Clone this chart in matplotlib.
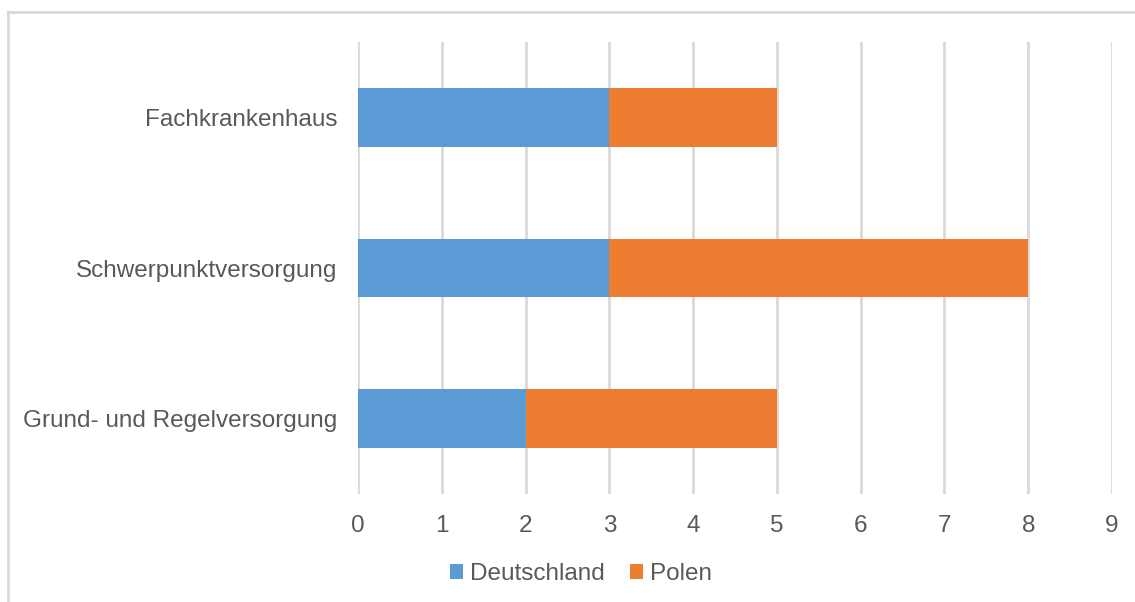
import matplotlib
matplotlib.use('Agg')
import matplotlib.pyplot as plt
from matplotlib.lines import Line2D
import numpy as np

# Daten
kategorien = ['Grund- und Regelversorgung', 'Schwerpunktversorgung', 'Fachkrankenhaus']
deutschland = [2, 3, 3]
polen = [3, 5, 2]
serien = ['Deutschland', 'Polen']
x_ticks = list(range(0, 10))

blau = '#5B9BD5'
orange = '#ED7D31'
grau_text = '#595959'
grau_linie = '#D9D9D9'

plt.rcParams['font.family'] = ['Liberation Sans', 'DejaVu Sans']

fig = plt.figure(figsize=(11.35, 6.02), dpi=100)
ax = fig.add_axes([358/1135, 1 - 494/602, (1112 - 358)/1135, (494 - 42)/602])

y = np.arange(len(kategorien))
ax.barh(y, deutschland, height=0.39, color=blau, label=serien[0], zorder=3)
ax.barh(y, polen, left=deutschland, height=0.39, color=orange, label=serien[1], zorder=3)

ax.set_xlim(0, 9)
ax.set_ylim(-0.5, 2.5)
ax.set_xticks(x_ticks)
ax.set_yticks(y)
ax.set_yticklabels(kategorien)
ax.tick_params(axis='both', length=0, labelsize=17.5, colors=grau_text)
ax.tick_params(axis='y', pad=15)
ax.tick_params(axis='x', pad=15)
ax.xaxis.grid(True, color=grau_linie, linewidth=2, zorder=0)
for s in ax.spines.values():
    s.set_visible(False)

# Rahmen (nur links und oben sichtbar)
fig.add_artist(Line2D([8/1135, 8/1135], [0, 1 - 12/602], color=grau_linie, linewidth=2))
fig.add_artist(Line2D([8/1135, 1], [1 - 12/602, 1 - 12/602], color=grau_linie, linewidth=2))

leg = fig.legend(loc='center', bbox_to_anchor=(581/1135, 1 - 574/602), ncol=2,
                 frameon=False, fontsize=17.5, handlelength=0.55, handleheight=0.55,
                 handletextpad=0.3, columnspacing=1.0)
for t in leg.get_texts():
    t.set_color(grau_text)

fig.savefig('out.png', dpi=100)
